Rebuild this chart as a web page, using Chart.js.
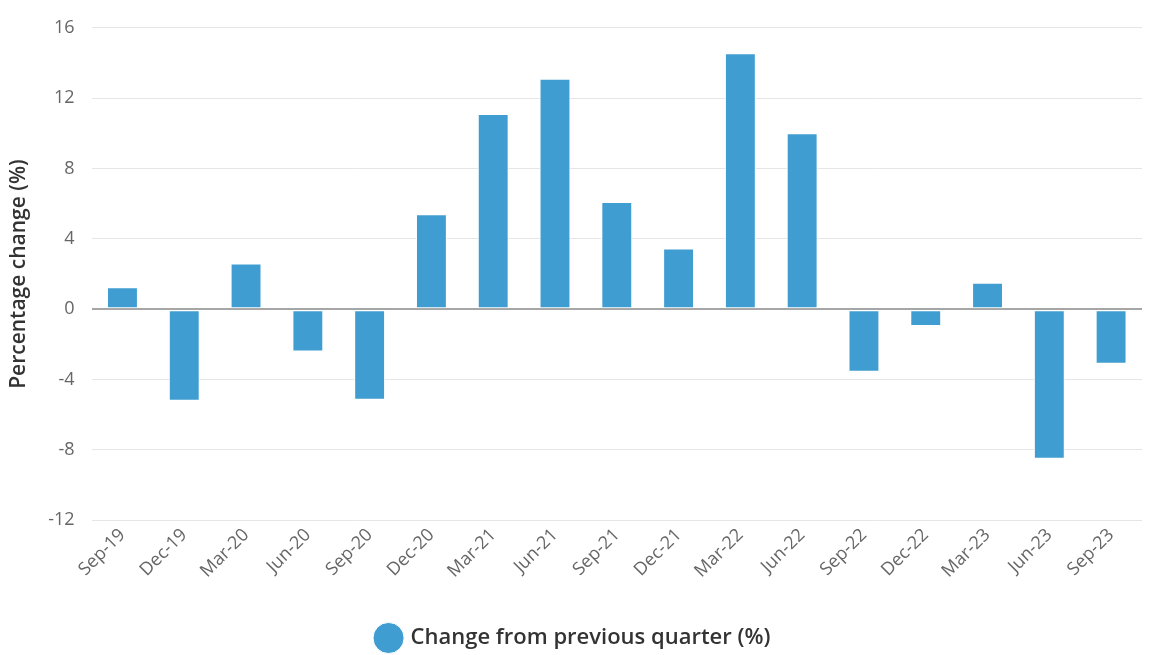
<!DOCTYPE html>
<html>
<head>
<meta charset="utf-8">
<script src="https://cdn.jsdelivr.net/npm/chart.js@4/dist/chart.umd.min.js"></script>
<style>
  html, body { margin: 0; padding: 0; background: #fff; }
  #wrap { width: 1160px; height: 655px; }
</style>
</head>
<body>
<div id="wrap"><canvas id="myChart"></canvas></div>
<script>
const quarters = ['Sep-19', 'Dec-19', 'Mar-20', 'Jun-20', 'Sep-20', 'Dec-20', 'Mar-21', 'Jun-21', 'Sep-21',
                  'Dec-21', 'Mar-22', 'Jun-22', 'Sep-22', 'Dec-22', 'Mar-23', 'Jun-23', 'Sep-23'];
const changes = [1.25, -5.2, 2.6, -2.4, -5.15, 5.4, 11.1, 13.1, 6.1, 3.45, 14.55, 10.0, -3.55, -0.95, 1.5, -8.5, -3.1];
const yTicks = [-12, -8, -4, 0, 4, 8, 12, 16];

const barColor = '#3f9dd1';

const config = {
    type: 'bar',
    data: {
        labels: quarters,
        datasets: [{
            label: 'Change from previous quarter (%)',
            data: changes,
            backgroundColor: barColor,
            borderColor: '#ffffff',
            borderWidth: 1,
            borderSkipped: false,
            categoryPercentage: 1,
            barPercentage: 0.5
        }]
    },
    options: {
        responsive: true,
        maintainAspectRatio: false,
        animation: false,
        layout: { padding: { left: 6, right: 18, top: 11, bottom: -4 } },
        scales: {
            x: {
                grid: { display: false, drawTicks: false },
                border: { display: false },
                ticks: {
                    color: '#666',
                    font: { family: 'Open Sans', size: 18 },
                    maxRotation: 45,
                    minRotation: 45,
                    padding: 4
                },
                // leave a gap between the rotated labels and the legend
                afterFit: (scale) => { scale.height += 35; }
            },
            y: {
                min: -12,
                max: 16,
                afterBuildTicks: (axis) => { axis.ticks = yTicks.map(v => ({ value: v })); },
                grid: {
                    color: (ctx) => ctx.tick && ctx.tick.value === 0 ? '#a6a6a6' : '#e6e6e6',
                    lineWidth: (ctx) => ctx.tick && ctx.tick.value === 0 ? 2 : 1,
                    drawTicks: false
                },
                border: { display: false },
                ticks: {
                    color: '#666',
                    font: { family: 'Open Sans', size: 18 },
                    padding: 17
                },
                title: {
                    display: true,
                    text: 'Percentage change (%)',
                    color: '#333',
                    font: { family: 'Open Sans', size: 21, weight: '600' },
                    padding: { top: 0, bottom: 0 }
                }
            }
        },
        plugins: {
            legend: {
                position: 'bottom',
                labels: {
                    usePointStyle: true,
                    pointStyle: 'circle',
                    boxWidth: 22,
                    boxHeight: 22,
                    color: '#333',
                    font: { family: 'Open Sans', size: 22, weight: '600' },
                    padding: 6
                }
            },
            tooltip: { enabled: false }
        }
    }
};

function buildChart() {
    const ctx = document.getElementById('myChart').getContext('2d');
    return new Chart(ctx, config);
}

buildChart();
</script>
</body>
</html>
